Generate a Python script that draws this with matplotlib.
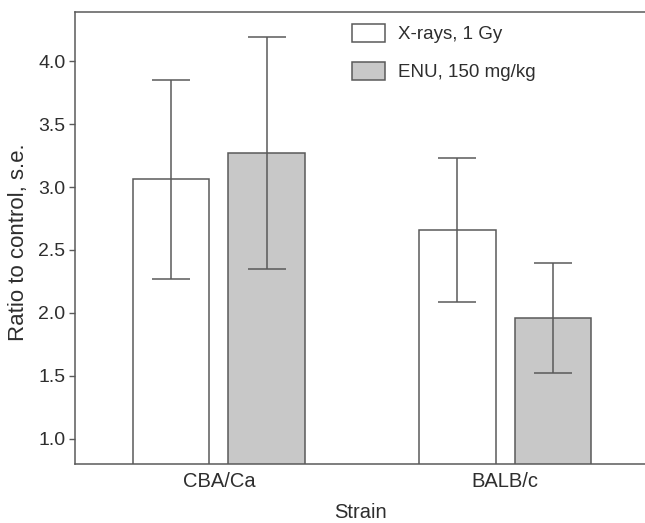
import numpy as np
import matplotlib.pyplot as plt

plt.rcParams['font.family'] = ['Liberation Sans', 'DejaVu Sans']

# data
strains = ['CBA/Ca', 'BALB/c']
xray_mean = [3.06, 2.66]
xray_low = [2.27, 2.09]
xray_high = [3.85, 3.23]
enu_mean = [3.27, 1.96]
enu_low = [2.35, 1.52]
enu_high = [4.19, 2.40]

edge = '#5a5a5a'
txt = '#2e2e2e'

fig = plt.figure(figsize=(6.45, 5.23), dpi=100)
ax = fig.add_axes([75 / 645, 59 / 523, 570 / 645, 452 / 523])

x = np.arange(len(strains))
w = 0.267
off = 1 / 6

err_x = [np.array(xray_mean) - np.array(xray_low), np.array(xray_high) - np.array(xray_mean)]
err_e = [np.array(enu_mean) - np.array(enu_low), np.array(enu_high) - np.array(enu_mean)]

ax.bar(x - off, xray_mean, w, color='white', edgecolor=edge, linewidth=1.1,
       label='X-rays, 1 Gy', zorder=2)
ax.bar(x + off, enu_mean, w, color='#c8c8c8', edgecolor=edge, linewidth=1.1,
       label='ENU, 150 mg/kg', zorder=2)
ax.errorbar(x - off, xray_mean, yerr=err_x, fmt='none', ecolor=edge,
            elinewidth=1.1, capsize=13.7, capthick=1.1, zorder=3)
ax.errorbar(x + off, enu_mean, yerr=err_e, fmt='none', ecolor=edge,
            elinewidth=1.1, capsize=13.7, capthick=1.1, zorder=3)

ax.set_xlim(-0.503, 1.489)
ax.set_ylim(0.8, 4.39)
yt = np.arange(1.0, 4.01, 0.5)
ax.set_yticks(yt)
ax.set_yticklabels([f'{v:.1f}' for v in yt])
ax.set_xticks(x)
ax.set_xticklabels(strains)

ax.spines['right'].set_visible(False)
for s in ['left', 'bottom', 'top']:
    ax.spines[s].set_color(edge)
    ax.spines[s].set_linewidth(1.1)

ax.tick_params(axis='y', length=4, width=1, color=edge, labelsize=14,
               labelcolor=txt, pad=3)
ax.tick_params(axis='x', length=0, labelsize=14.5, labelcolor=txt, pad=6)

ax.set_xlabel('Strain', fontsize=14.5, color=txt)
ax.xaxis.set_label_coords((360 - 75) / 570, (464 - 503) / 452)
ax.set_ylabel('Ratio to control, s.e.', fontsize=16, color=txt)
ax.yaxis.set_label_coords((29 - 75) / 570, (464 - 242) / 452)

leg = ax.legend(loc='upper left', bbox_to_anchor=(0.486, 0.974), frameon=False,
                fontsize=13.5, borderaxespad=0, borderpad=0,
                handlelength=1.76, handleheight=1.12, labelspacing=1.0,
                handletextpad=0.7)
for t in leg.get_texts():
    t.set_color(txt)

fig.savefig('out.png', dpi=100)
